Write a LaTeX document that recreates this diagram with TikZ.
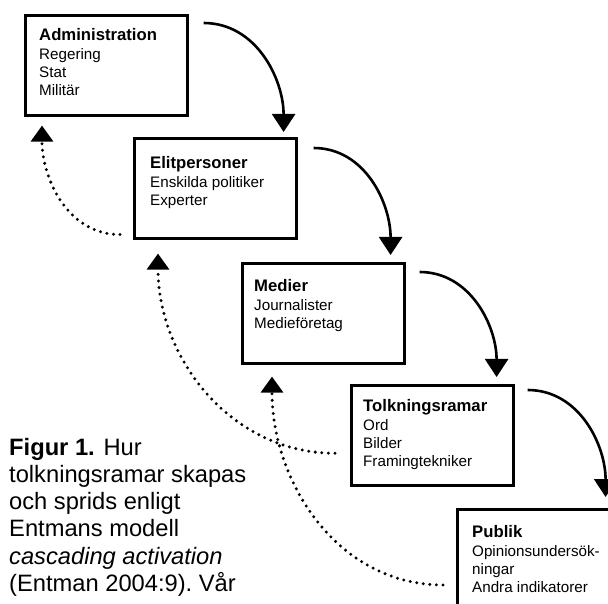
\documentclass[tikz,border=0pt]{standalone}
\usepackage{fontspec}
\setmainfont{Liberation Sans}
\usetikzlibrary{calc,arrows.meta}
\tikzset{
	ram/.style={draw, line width=2.6pt, minimum width=162pt, minimum height=100pt, inner sep=0pt, anchor=north west},
	ramtext/.style={anchor=north west, align=left, inner sep=0pt, font=\fontsize{15.2}{18}\selectfont},
	pil/.style={line width=2.6pt, -{Triangle[width=23pt,length=18pt]}},
	prick/.style={line width=3.3pt, line cap=round, dash pattern=on 0pt off 6.6pt, -{Triangle[width=22pt,length=16pt]}}
}
\newcommand{\rubrik}[1]{{\fontsize{16.7}{20}\selectfont\bfseries #1}}

\begin{document}
\begin{tikzpicture}[x=1pt,y=1pt]
		%%%%% START %%%%%
		\useasboundingbox (0,0) rectangle (608,603);
		\clip (0,0) rectangle (608,603);
		
		\node[ram] (adm) at (24,589) {};
		\node[ram] (elit) at (133,466) {};
		\node[ram] (medier) at (241,341) {};
		\node[ram] (tolk) at (350,219) {};
		\node[ram] (publik) at (456,95) {};
		
		\node[ramtext] (admtext) at ($(adm.north west)+(15,-14)$) {\rubrik{Administration}\\[1pt]Regering\\Stat\\Militär};
		\node[ramtext] (elittext) at ($(elit.north west)+(17,-19)$) {\rubrik{Elitpersoner}\\[1pt]Enskilda politiker\\Experter};
		\node[ramtext] (mediertext) at ($(medier.north west)+(13,-17)$) {\rubrik{Medier}\\[1pt]Journalister\\Medieföretag};
		\node[ramtext] (tolktext) at ($(tolk.north west)+(13,-15)$) {\rubrik{Tolkningsramar}\\[1pt]Ord\\Bilder\\Framingtekniker};
		\node[ramtext] (publiktext) at ($(publik.north west)+(16,-17)$) {\rubrik{Publik}\\[1pt]Opinionsundersök-\\ningar\\Andra indikatorer};
		
		% nedåt
		\draw[pil] ($(adm.north east)+(15,-9)$) to[out=0,in=90] ($(elit.north east)+(-14,5)$);
		\draw[pil] ($(elit.north east)+(16,-11)$) to[out=0,in=90] ($(medier.north east)+(-15,7)$);
		\draw[pil] ($(medier.north east)+(14,-10)$) to[out=0,in=90] ($(tolk.north east)+(-18,7)$);
		\draw[pil] ($(tolk.north east)+(13,-6)$) to[out=0,in=90] ($(publik.north east)+(-15,11)$);
		
		% uppåt
		\draw[prick] ($(elit.south west)+(-13,5)$) to[out=180,in=-90] ($(adm.south west)+(18,-9)$);
		\draw[prick] ($(tolk.west)+(-15,-18)$) to[out=180,in=-90] ($(elit.south west)+(25,-14)$);
		\draw[prick] ($(publik.north west)+(-13,-77)$) to[out=180,in=-90] ($(medier.south west)+(31,-12)$);
		
		\node[anchor=north west, align=left, inner sep=0pt, font=\fontsize{23.7}{27.2}\selectfont] (figur) at (9,165) {\textbf{Figur 1.} Hur\\tolkningsramar skapas\\och sprids enligt\\Entmans modell\\\textit{cascading activation}\\(Entman 2004:9).\ Vår};
		
		%%%%% END %%%%%
\end{tikzpicture}
\end{document}
